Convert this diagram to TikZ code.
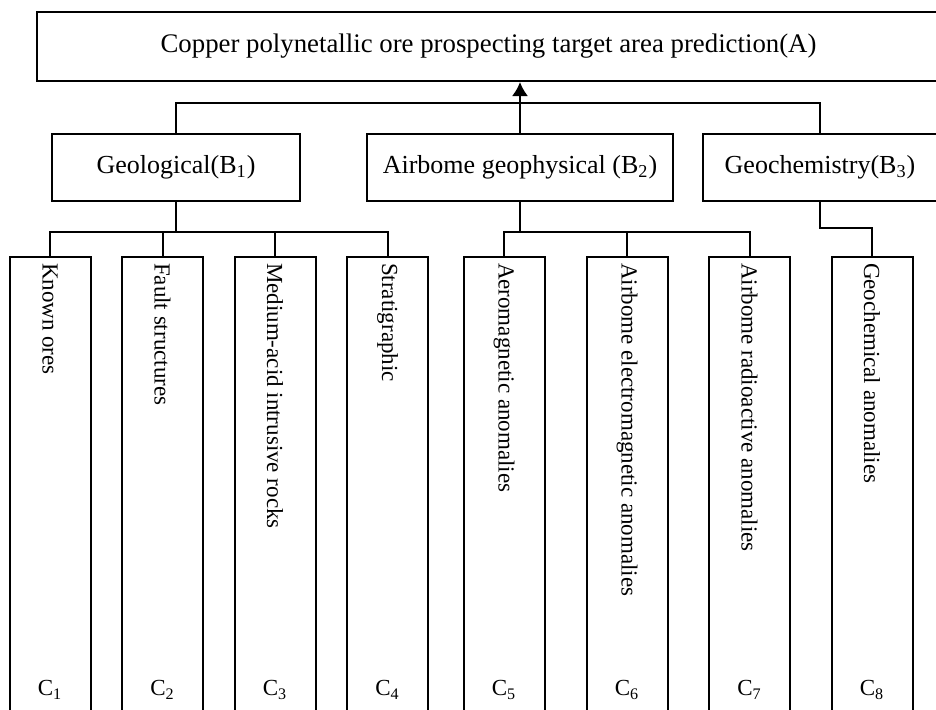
\documentclass[tikz,border=0pt]{standalone}
\usepackage{fontspec}
\setmainfont{Liberation Serif}
\usetikzlibrary{positioning, calc, arrows.meta}

\begin{document}
\begin{tikzpicture}[x=0.5pt, y=-0.5pt, line width=1pt,
        goal/.style={draw, minimum width=451.5pt, minimum height=34.5pt, font=\fontsize{13.4}{15}\selectfont},
        crit/.style={draw, minimum height=33.5pt, font=\fontsize{13}{15}\selectfont},
        fact/.style={draw, minimum width=40.5pt, minimum height=234pt, inner sep=0pt},
        facttext/.style={rotate=-90, anchor=west, inner sep=0pt, font=\fontsize{11.5}{13}\selectfont},
        factid/.style={inner sep=0pt, font=\fontsize{11.5}{13}\selectfont}]
    \useasboundingbox (0,0) rectangle (936,709);
    \fill[white] (0,0) rectangle (936,709);
    \clip (0,0) rectangle (936,709);

    % target and criteria
    \node[goal] (a) at (488.5,46.5) {Copper polynetallic ore prospecting target area prediction(A)};
    \node[crit, minimum width=124pt] (b1) at (176,167.5) {Geological(B\textsubscript{1})};
    \node[crit, minimum width=153pt] (b2) at (520,167.5) {Airbome geophysical (B\textsubscript{2})};
    \node[crit, minimum width=117pt] (b3) at (820,167.5) {Geochemistry(B\textsubscript{3})};

    % factors
    \node[fact] (c1) at (50,491) {};
    \node[fact] (c2) at (162.5,491) {};
    \node[fact] (c3) at (275,491) {};
    \node[fact] (c4) at (387.5,491) {};
    \node[fact] (c5) at (504,491) {};
    \node[fact] (c6) at (627,491) {};
    \node[fact] (c7) at (749.5,491) {};
    \node[fact] (c8) at (872,491) {};

    \node[facttext] (t1) at ($(c1.north)+(0,6)$) {Known ores};
    \node[facttext] (t2) at ($(c2.north)+(0,6)$) {Fault structures};
    \node[facttext] (t3) at ($(c3.north)+(0,6)$) {Medium-acid intrusive rocks};
    \node[facttext] (t4) at ($(c4.north)+(0,6)$) {Stratigraphic};
    \node[facttext] (t5) at ($(c5.north)+(0,6)$) {Aeromagnetic anomalies};
    \node[facttext] (t6) at ($(c6.north)+(0,6)$) {Airbome electromagnetic anomalies};
    \node[facttext] (t7) at ($(c7.north)+(0,6)$) {Airbome radioactive anomalies};
    \node[facttext] (t8) at ($(c8.north)+(0,6)$) {Geochemical anomalies};

    \node[factid] (id1) at (50,690) {C\textsubscript{1}};
    \node[factid] (id2) at (162.5,690) {C\textsubscript{2}};
    \node[factid] (id3) at (275,690) {C\textsubscript{3}};
    \node[factid] (id4) at (387.5,690) {C\textsubscript{4}};
    \node[factid] (id5) at (504,690) {C\textsubscript{5}};
    \node[factid] (id6) at (627,690) {C\textsubscript{6}};
    \node[factid] (id7) at (749.5,690) {C\textsubscript{7}};
    \node[factid] (id8) at (872,690) {C\textsubscript{8}};

    % connectors
    \coordinate (abar) at (520,103);
    \draw (b1.north) |- (abar) -| (b3.north);
    \draw[-{Latex[length=7pt,width=8pt]}] (b2.north) -- (b2.north |- a.south);

    \coordinate (b1bus) at (176,232);
    \draw (b1.south) -- (b1bus);
    \draw (c1.north) |- (b1bus) -| (c4.north);
    \draw (c2.north) -- (c2.north |- b1bus);
    \draw (c3.north) -- (c3.north |- b1bus);

    \coordinate (b2bus) at (520,232);
    \draw (b2.south) -- (b2bus);
    \draw (c5.north) |- (b2bus) -| (c7.north);
    \draw (c6.north) -- (c6.north |- b2bus);

    \coordinate (b3bend) at (820,228);
    \draw (b3.south) -- (b3bend) -| (c8.north);
\end{tikzpicture}
\end{document}
